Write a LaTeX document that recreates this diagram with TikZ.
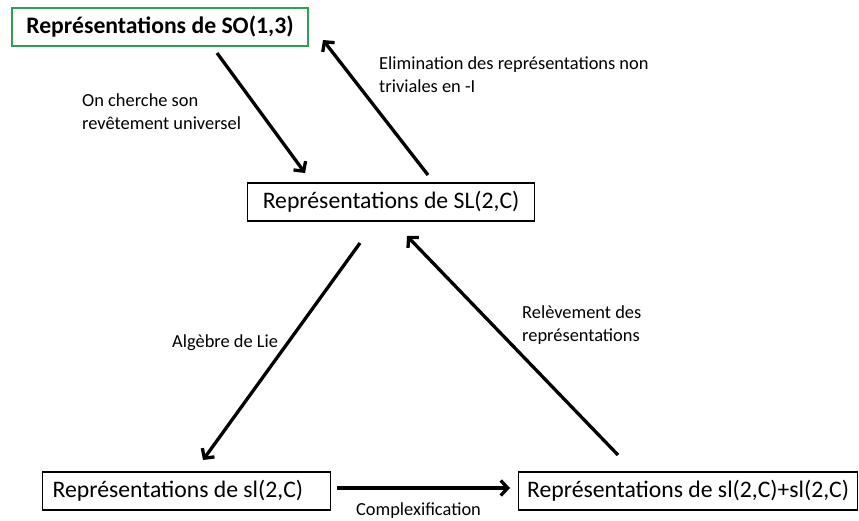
\documentclass[tikz,border=0pt]{standalone}
\usepackage{fontspec}
\setmainfont{Carlito}
\usetikzlibrary{arrows.meta}
\definecolor{vertSO}{RGB}{46,160,82}
\tikzset{
  boite/.style={draw,line width=1.2pt,inner sep=0pt,minimum height=38pt,
    anchor=west,font=\fontsize{23.7}{28}\selectfont},
  legende/.style={inner sep=0pt,align=left,font=\fontsize{18.4}{23}\selectfont},
  fleche/.style={line width=3.3pt,-{Straight Barb[length=7pt,width=15pt]}}
}
\begin{document}
\begin{tikzpicture}[x=1pt,y=-1pt]
    \useasboundingbox (0,0) rectangle (859,520);
    \node[boite,draw=vertSO,line width=2pt,minimum width=296pt,font=\fontsize{23.7}{28}\bfseries\selectfont]
      (so) at (11,26.5) {Représentations de SO(1,3)};
    \node[boite,minimum width=287pt] (SL) at (247,202) {Représentations de SL(2,C)};
    \node[boite,inner xsep=10pt] (sl) at (42,491) {\makebox[268pt][l]{Représentations de sl(2,C)}};
    \node[boite,minimum width=339pt] (slsl) at (518,491) {Représentations de sl(2,C)+sl(2,C)};
    % extremites des fleches
    \coordinate (a1) at (217,53);  \coordinate (b1) at (305,173);
    \coordinate (a2) at (428,175); \coordinate (b2) at (323,40);
    \coordinate (a3) at (360,243); \coordinate (b3) at (203,460);
    \coordinate (a4) at (618,455); \coordinate (b4) at (407,236);
    \coordinate (a5) at (337,488); \coordinate (b5) at (510,488);
    \draw[fleche] (a1) -- (b1);
    \draw[fleche] (a2) -- (b2);
    \draw[fleche] (a3) -- (b3);
    \draw[fleche] (a4) -- (b4);
    \draw[fleche] (a5) -- (b5);
    \node[legende,anchor=west] (revet) at (82,111.5) {On cherche son\\revêtement universel};
    \node[legende,anchor=west] (elim) at (379,75) {Elimination des représentations non\\triviales en -I};
    \node[legende,anchor=west] (lie) at (172,343) {Algèbre de Lie};
    \node[legende,anchor=west] (relev) at (522,325) {Relèvement des\\représentations};
    \node[legende] (cplx) at (418.5,511) {Complexification};
  \end{tikzpicture}
\end{document}
